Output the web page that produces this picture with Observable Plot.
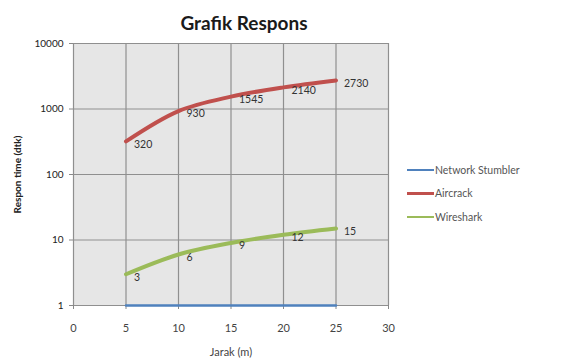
<!DOCTYPE html>
<html>
<head>
<meta charset="utf-8">
<script src="https://cdn.jsdelivr.net/npm/d3@7"></script>
<script src="https://cdn.jsdelivr.net/npm/@observablehq/plot@0.6"></script>
<style>
  html, body { margin: 0; padding: 0; background: #fff; }
  #wrap { position: relative; width: 561px; height: 364px; font-family: Lato, "Open Sans", sans-serif; overflow: hidden; }
  #title { position: absolute; left: 0; width: 488px; top: 11px; text-align: center; font-size: 19px; font-weight: bold; color: #1a1a1a; }
  #legend { position: absolute; left: 407px; top: 158px; font-size: 10.5px; color: #555; }
  #legend .item { display: flex; align-items: center; height: 23.5px; }
  #legend .sw { width: 27px; height: 2.5px; margin-right: 1px; }
  #chart { position: absolute; left: 0; top: 0; }
  g[aria-label="y-axis label"] text { font-weight: bold; }
</style>
</head>
<body>
<div id="wrap">
  <div id="chart"></div>
  <div id="title"></div>
  <div id="legend"></div>
</div>
<script>
const titleText = "Grafik Respons";
const xLabel = "Jarak (m)";
const yLabel = "Respon time (dtk)";
const jarak = [5, 10, 15, 20, 25];
const seriesNames = ["Network Stumbler", "Aircrack", "Wireshark"];
const networkStumbler = [1, 1, 1, 1, 1];
const aircrack = [320, 930, 1545, 2140, 2730];
const wireshark = [3, 6, 9, 12, 15];
const seriesColors = ["#4f81bd", "#c0504d", "#9bbb59"];
const xTicks = [0, 5, 10, 15, 20, 25, 30];
const yTicks = [1, 10, 100, 1000, 10000];

const seriesValues = [networkStumbler, aircrack, wireshark];
const rows = seriesNames.map((name, i) => jarak.map((x, j) => ({series: name, x, y: seriesValues[i][j]})));

document.getElementById("title").textContent = titleText;
const legend = document.getElementById("legend");
seriesNames.forEach((n, i) => {
  const it = document.createElement("div");
  it.className = "item";
  const sw = document.createElement("span");
  sw.className = "sw";
  sw.style.background = seriesColors[i];
  const t = document.createElement("span");
  t.textContent = n;
  it.appendChild(sw); it.appendChild(t);
  legend.appendChild(it);
});

const widths = [2.5, 4, 4];
const chart = Plot.plot({
  width: 561,
  height: 364,
  marginLeft: 73,
  marginRight: 173,
  marginTop: 43,
  marginBottom: 59,
  style: {fontFamily: "Lato, 'Open Sans', sans-serif", fontSize: "11px", color: "#333", background: "transparent"},
  x: {domain: [0, 30]},
  y: {type: "log", domain: [1, 10000]},
  marks: [
    Plot.frame({fill: "#e6e6e6", stroke: null}),
    Plot.ruleX(xTicks, {stroke: "#8f8f8f", strokeWidth: 1.2}),
    Plot.ruleY(yTicks, {stroke: "#8f8f8f", strokeWidth: 1.2}),
    Plot.axisX({ticks: xTicks, tickSize: 4, tickPadding: 15, stroke: "#888", label: xLabel, labelAnchor: "center", labelArrow: "none", labelOffset: 50, fill: "#444"}),
    Plot.axisY({ticks: yTicks, tickSize: 4, tickPadding: 6, tickFormat: d => String(d), stroke: "#888", label: yLabel, labelAnchor: "center", labelArrow: "none", labelOffset: 60, fill: "#222", fontSize: 10}),
    ...rows.map((r, i) => Plot.line(r, {x: "x", y: "y", stroke: seriesColors[i], strokeWidth: widths[i], curve: "catmull-rom"})),
    Plot.text(rows[1].concat(rows[2]), {x: "x", y: "y", text: d => String(d.y), dx: 8, dy: 3, textAnchor: "start", fill: "#333", fontSize: 10.5})
  ]
});
document.getElementById("chart").appendChild(chart);
</script>
</body>
</html>
